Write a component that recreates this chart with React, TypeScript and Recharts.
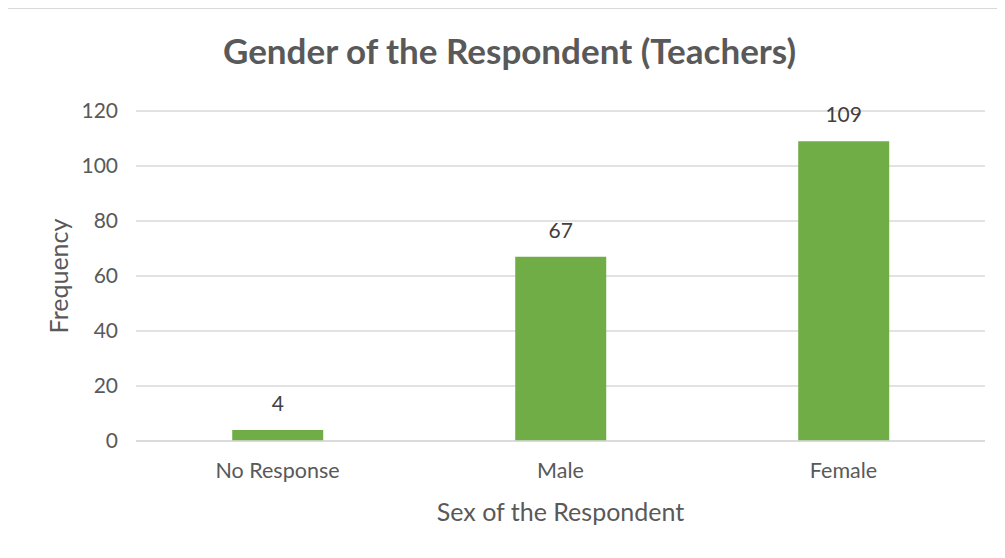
import React from 'react';
import { BarChart, Bar, XAxis, YAxis, CartesianGrid, LabelList } from 'recharts';

const categories = ['No Response', 'Male', 'Female'];
const frequency = [4, 67, 109];
const yTicks = [0, 20, 40, 60, 80, 100, 120];

const data = categories.map((name, i) => ({ name, value: frequency[i] }));

const font = 'Lato, "Open Sans", sans-serif';

export default function App() {
  return (
    <div
      style={{
        position: 'relative',
        width: 1010,
        height: 570,
        marginLeft: -1,
        border: '1px solid #d9d9d9',
        background: '#fff',
        fontFamily: font,
      }}
    >
      <div
        style={{
          position: 'absolute',
          top: 20,
          left: 0,
          width: 1003,
          textAlign: 'center',
          fontSize: 35,
          fontWeight: 700,
          color: '#595959',
        }}
      >
        Gender of the Respondent (Teachers)
      </div>
      <div
        style={{
          position: 'absolute',
          left: 50,
          top: 267,
          transform: 'translate(-50%, -50%) rotate(-90deg)',
          fontSize: 25,
          color: '#595959',
          whiteSpace: 'nowrap',
        }}
      >
        Frequency
      </div>
      <div
        style={{
          position: 'absolute',
          top: 487,
          left: 128,
          width: 849,
          textAlign: 'center',
          fontSize: 25,
          color: '#595959',
        }}
      >
        Sex of the Respondent
      </div>
      <BarChart
        width={1000}
        height={560}
        data={data}
        margin={{ top: 102, right: 23, left: 0, bottom: 68 }}
        barCategoryGap="34%"
      >
        <CartesianGrid vertical={false} stroke="#d9d9d9" strokeWidth={1.5} />
        <XAxis
          dataKey="name"
          height={60}
          axisLine={{ stroke: '#d9d9d9', strokeWidth: 1.5 }}
          tickLine={false}
          tickSize={0}
          tickMargin={22}
          tick={{ fill: '#595959', fontSize: 21.5, fontFamily: font }}
        />
        <YAxis
          width={128}
          domain={[0, 120]}
          ticks={yTicks}
          axisLine={false}
          tickLine={false}
          tickSize={0}
          tickMargin={18}
          tick={{ fill: '#595959', fontSize: 21, fontFamily: font }}
        />
        <Bar dataKey="value" fill="#70ad47" isAnimationActive={false}>
          <LabelList
            dataKey="value"
            position="top"
            offset={19}
            fill="#404040"
            fontSize={21}
            fontFamily={font}
          />
        </Bar>
      </BarChart>
    </div>
  );
}
